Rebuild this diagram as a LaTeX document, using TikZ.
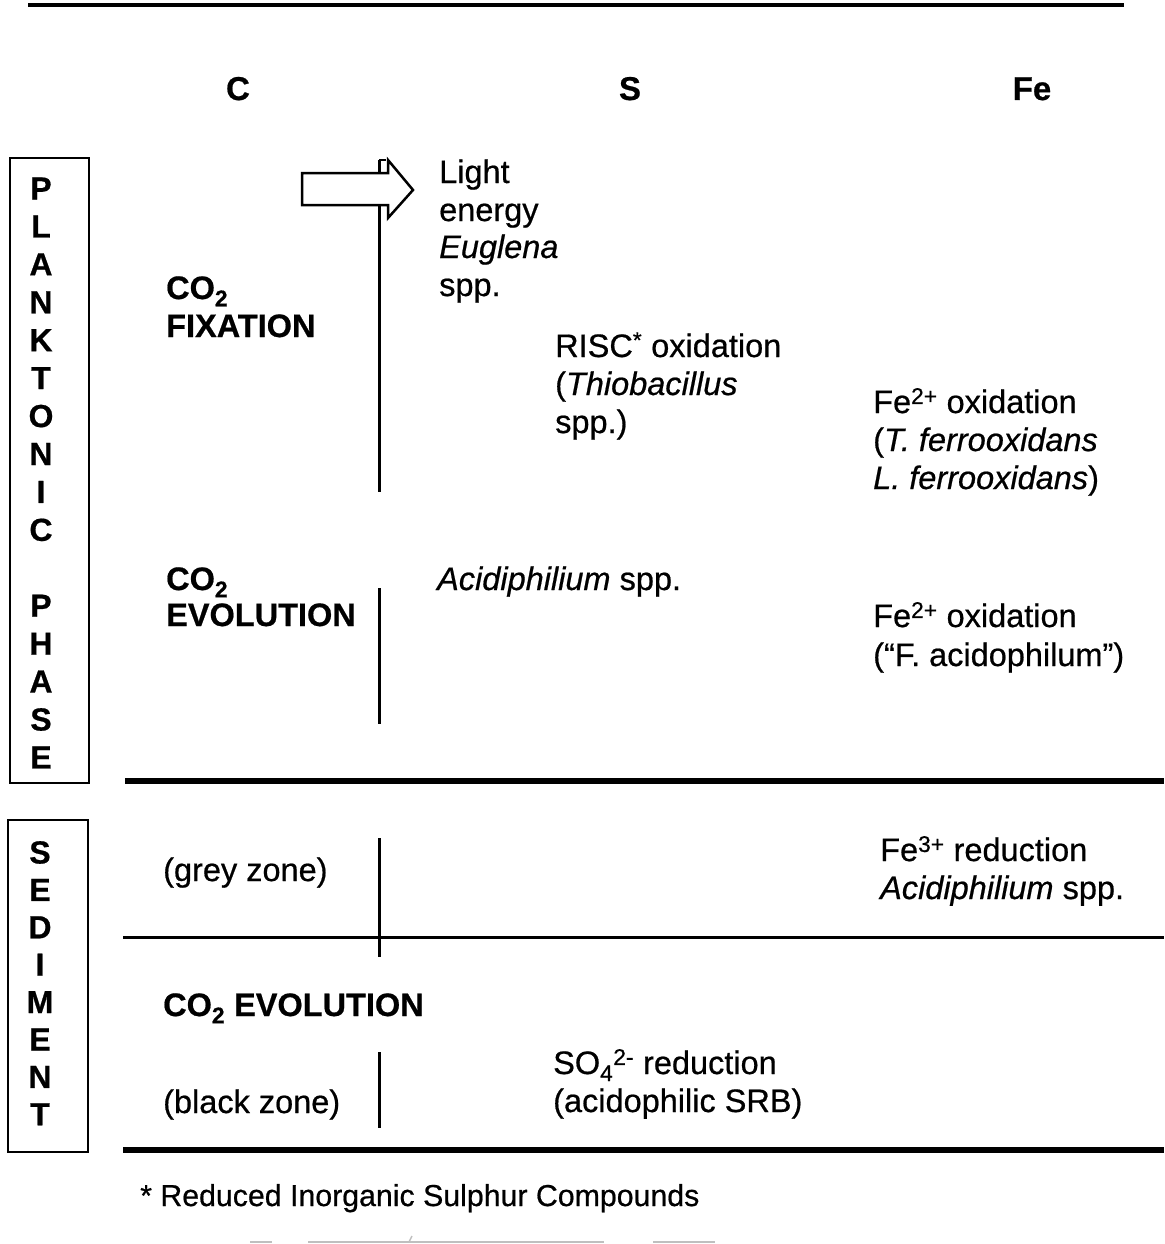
\documentclass[tikz,border=0pt]{standalone}
\usepackage{fontspec}
\setmainfont{Liberation Sans}[FakeBold=0.6]
\newcommand\cotwo{CO\textsubscript{2}}
\begin{document}
\begin{tikzpicture}[x=1pt,y=-1pt,
  txt/.style={anchor=base west,inner sep=0pt,font=\fontsize{32.5}{38}\selectfont},
  bld/.style={anchor=base west,inner sep=0pt,font=\fontsize{32.5}{38}\selectfont\bfseries},
  hdr/.style={anchor=base,inner sep=0pt,font=\fontsize{33}{38}\selectfont\bfseries},
  letter/.style={anchor=base,inner sep=0pt,font=\fontsize{32}{38}\selectfont\bfseries},
  note/.style={anchor=base west,inner sep=0pt,font=\fontsize{30.3}{36}\selectfont},
  frame/.style={draw,line width=2.5pt},
  thinrule/.style={line width=3pt},
  heavyrule/.style={line width=6pt},
  stem/.style={line width=3pt},
  scrap/.style={line width=1.5pt,black!25}]
\useasboundingbox (0,0) rectangle (1164,1244);

% rules across the table
\draw[line width=4pt] (28,5) -- (1124,5);
\draw[heavyrule] (125,781) -- (1164,781);
\draw[thinrule]  (123,937) -- (1164,937);
\draw[heavyrule] (123,1150) -- (1164,1150);

% column headings
\node[hdr] (hC)  at (238,100) {C};
\node[hdr] (hS)  at (630,100) {S};
\node[hdr] (hFe) at (1032,100) {Fe};

% phase labels in boxes
\draw[frame] (10,158) rectangle (89,783);
\foreach \l [count=\i] in {P,L,A,N,K,T,O,N,I,C,{},P,H,A,S,E}
  \node[letter] (pp\i) at (41,{199.5+(\i-1)*37.93}) {\l};
\draw[frame] (8,820) rectangle (88,1152);
\foreach \l [count=\i] in {S,E,D,I,M,E,N,T}
  \node[letter] (sd\i) at (40,{863.5+(\i-1)*37.4}) {\l};

% vertical stems in the carbon column
\draw[stem] (379,160) -- (379,492);
\draw[stem] (379,588) -- (379,724);
\draw[stem] (379,838) -- (379,957);
\draw[stem] (379,1052) -- (379,1128);

% light energy block arrow
\draw[line width=2.5pt,fill=white,line join=miter]
  (302,173) -- (388,173) -- (388,160) -- (413,190) -- (388,218)
  -- (388,205) -- (302,205) -- cycle;
\draw[line width=2pt] (379,160) -- (386,160);

% planktonic phase, carbon
\node[bld] (fixA) at (166,299) {\cotwo};
\node[bld] (fixB) at (166,337) {FIXATION};
\node[bld] (evoA) at (166,590) {\cotwo};
\node[bld] (evoB) at (166,626) {EVOLUTION};

% planktonic phase, light
\node[txt] (l1) at (439,183) {Light};
\node[txt] (l2) at (439,221) {energy};
\node[txt] (l3) at (439,258) {\itshape Euglena};
\node[txt] (l4) at (439,296) {spp.};

% planktonic phase, sulphur
\node[txt] (r1) at (555,357) {RISC\textsuperscript{*} oxidation};
\node[txt] (r2) at (555,395) {(\textit{Thiobacillus}};
\node[txt] (r3) at (555,433) {spp.)};
\node[txt] (ac) at (437,590) {\textit{Acidiphilium} spp.};

% planktonic phase, iron
\node[txt] (f1) at (873,413) {Fe\textsuperscript{2+} oxidation};
\node[txt] (f2) at (873,451) {(\textit{T. ferrooxidans}};
\node[txt] (f3) at (873,489) {\textit{L. ferrooxidans})};
\node[txt] (g1) at (873,627) {Fe\textsuperscript{2+} oxidation};
\node[txt] (g2) at (873,666) {(``F. acidophilum'')};

% sediment
\node[txt] (grey) at (163,881) {(grey zone)};
\node[txt] (h1) at (880,861) {Fe\textsuperscript{3+} reduction};
\node[txt] (h2) at (880,899) {\textit{Acidiphilium} spp.};
\node[bld] (evoC) at (163,1016) {\cotwo{} EVOLUTION};
\node[txt] (s1) at (553,1074) {SO\textsubscript{4}\textsuperscript{2-} reduction};
\node[txt] (s2) at (553,1112) {(acidophilic SRB)};
\node[txt] (black) at (163,1113) {(black zone)};

% footnote
\node[note] (fn) at (140,1206) {* Reduced Inorganic Sulphur Compounds};

% faint marks along the lower edge
\draw[scrap] (250,1242) -- (272,1242);
\draw[scrap] (308,1242) -- (604,1242);
\draw[scrap] (409,1242) -- (412,1236);
\draw[scrap] (653,1242) -- (715,1242);
\end{tikzpicture}
\end{document}
